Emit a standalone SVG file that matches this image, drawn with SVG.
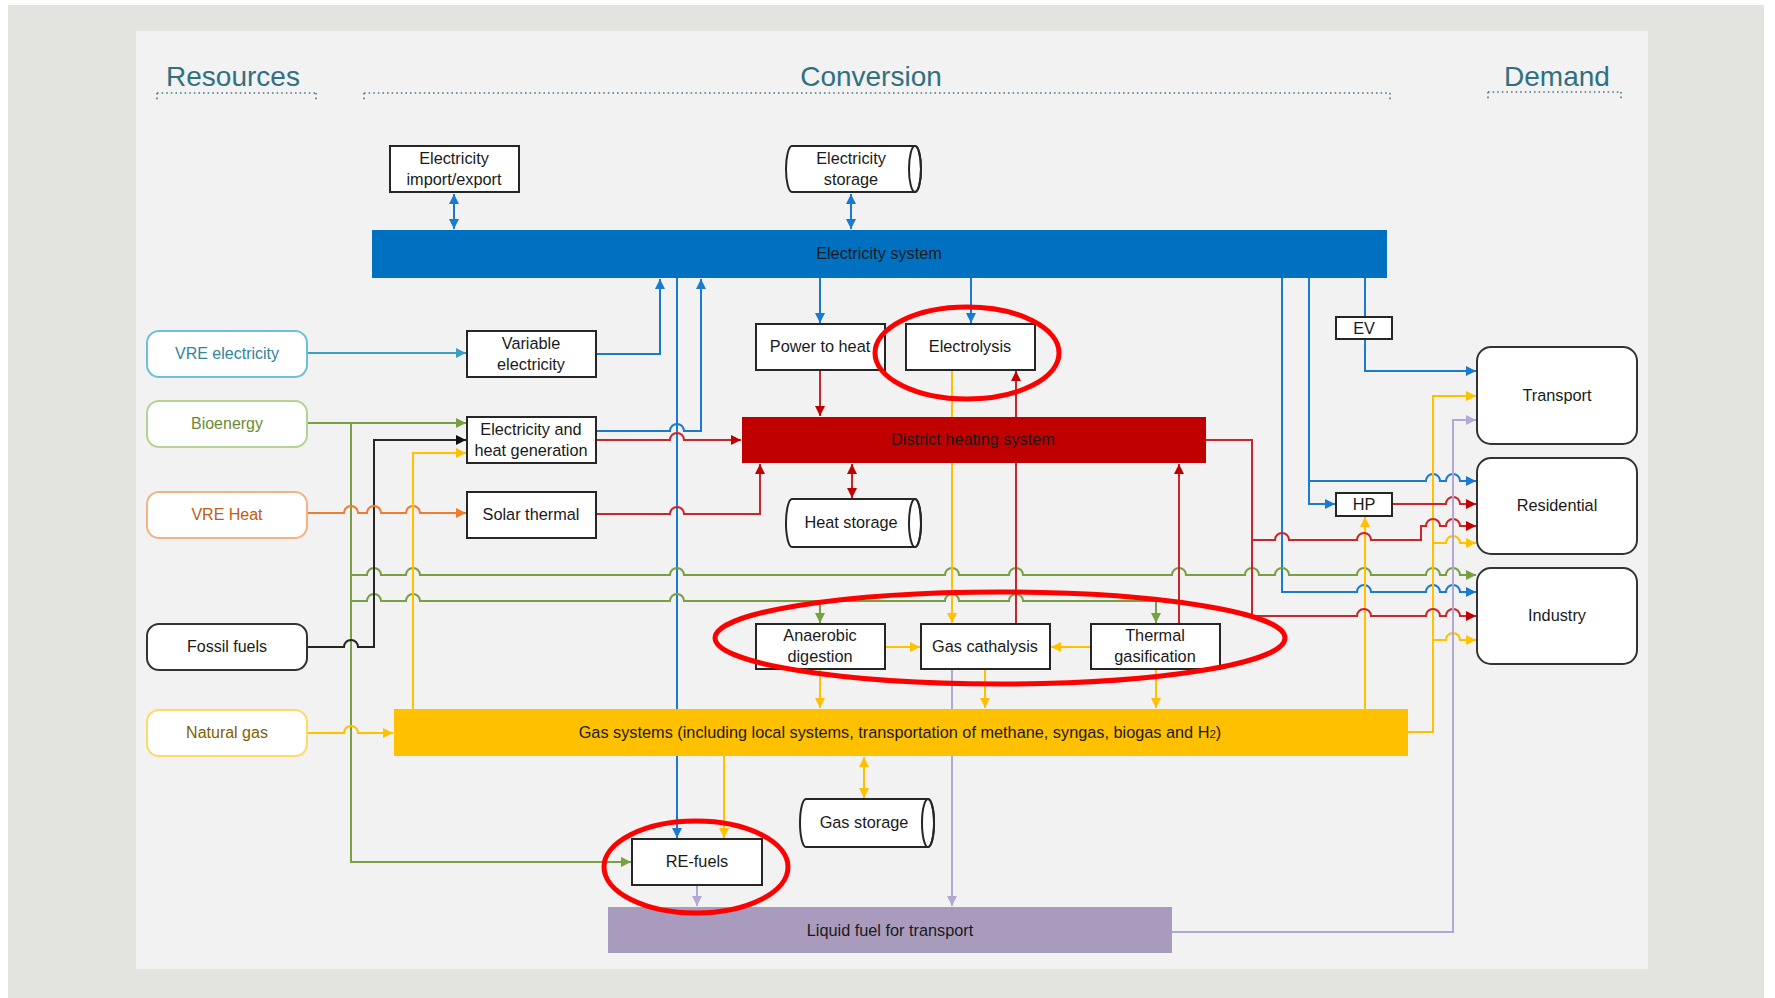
<svg xmlns="http://www.w3.org/2000/svg" width="1775" height="998" viewBox="0 0 1775 998">
<style>
text{font-family:"Liberation Sans",Arial,sans-serif;fill:#1a1a1a;text-anchor:middle}
.hdr{font-size:28px;fill:#31707f}
.t{font-size:16.3px}
.res{font-size:16px}
.box{fill:#ffffff;stroke:#262626;stroke-width:2}
.rbox{fill:#ffffff;stroke-width:2}
.dot{stroke:#4a7a88;stroke-width:1.6;stroke-dasharray:1.6 3;fill:none}
.c{fill:none;stroke-width:2}
.blue{stroke:#1a7ad0}
.red{stroke:#c8262a}
.grn{stroke:#77a043}
.yel{stroke:#ffc000}
.org{stroke:#ed7d31}
.teal{stroke:#3f9fc0}
.blk{stroke:#262626}
.pur{stroke:#b4a7d6}
.ann{fill:none;stroke:#ff0000;stroke-width:5}
</style>
<defs>
<marker id="ab" viewBox="0 0 10 10" refX="10" refY="5" markerWidth="10" markerHeight="10" markerUnits="userSpaceOnUse" orient="auto-start-reverse"><path d="M0,0L10,5L0,10z" fill="#1a7ad0"/></marker>
<marker id="ar" viewBox="0 0 10 10" refX="10" refY="5" markerWidth="10" markerHeight="10" markerUnits="userSpaceOnUse" orient="auto-start-reverse"><path d="M0,0L10,5L0,10z" fill="#c00000"/></marker>
<marker id="ag" viewBox="0 0 10 10" refX="10" refY="5" markerWidth="10" markerHeight="10" markerUnits="userSpaceOnUse" orient="auto-start-reverse"><path d="M0,0L10,5L0,10z" fill="#77a043"/></marker>
<marker id="ay" viewBox="0 0 10 10" refX="10" refY="5" markerWidth="10" markerHeight="10" markerUnits="userSpaceOnUse" orient="auto-start-reverse"><path d="M0,0L10,5L0,10z" fill="#ffc000"/></marker>
<marker id="ao" viewBox="0 0 10 10" refX="10" refY="5" markerWidth="10" markerHeight="10" markerUnits="userSpaceOnUse" orient="auto-start-reverse"><path d="M0,0L10,5L0,10z" fill="#ed7d31"/></marker>
<marker id="at" viewBox="0 0 10 10" refX="10" refY="5" markerWidth="10" markerHeight="10" markerUnits="userSpaceOnUse" orient="auto-start-reverse"><path d="M0,0L10,5L0,10z" fill="#3f9fc0"/></marker>
<marker id="ak" viewBox="0 0 10 10" refX="10" refY="5" markerWidth="10" markerHeight="10" markerUnits="userSpaceOnUse" orient="auto-start-reverse"><path d="M0,0L10,5L0,10z" fill="#111111"/></marker>
<marker id="ap" viewBox="0 0 10 10" refX="10" refY="5" markerWidth="10" markerHeight="10" markerUnits="userSpaceOnUse" orient="auto-start-reverse"><path d="M0,0L10,5L0,10z" fill="#b4a7d6"/></marker>
</defs>
<rect x="0" y="0" width="1775" height="998" fill="#ffffff"/>
<rect x="8" y="5" width="1756" height="993" fill="#e3e4df"/>
<rect x="136" y="31" width="1512" height="938" fill="#f2f2f2"/>

<g id="headers">
<text class="hdr" x="233" y="86">Resources</text>
<text class="hdr" x="871" y="86">Conversion</text>
<text class="hdr" x="1557" y="86">Demand</text>
<path class="dot" d="M157,93H316M157,93V100M316,93V100"/>
<path class="dot" d="M364,93H1390M364,93V100M1390,93V100"/>
<path class="dot" d="M1488,92H1621M1488,92V99M1621,92V99"/>
</g>

<g id="connectors">
<!-- blue -->
<path class="c blue" d="M454,194V229" marker-start="url(#ab)" marker-end="url(#ab)"/>
<path class="c blue" d="M851,194V229" marker-start="url(#ab)" marker-end="url(#ab)"/>
<path class="c blue" d="M596,354H660V279" marker-end="url(#ab)"/>
<path class="c blue" d="M596,431H670a7,7 0 0 1 14,0H701V279" marker-end="url(#ab)"/>
<path class="c blue" d="M677,278V838" marker-end="url(#ab)"/>
<path class="c blue" d="M820,278V323" marker-end="url(#ab)"/>
<path class="c blue" d="M971,278V323" marker-end="url(#ab)"/>
<path class="c blue" d="M1365,278V317"/>
<path class="c blue" d="M1365,339V371H1476" marker-end="url(#ab)"/>
<path class="c blue" d="M1309,278V504H1335" marker-end="url(#ab)"/>
<path class="c blue" d="M1309,481H1426a7,7 0 0 1 14,0H1446a7,7 0 0 1 14,0H1476" marker-end="url(#ab)"/>
<path class="c blue" d="M1282,278V592H1357a7,7 0 0 1 14,0H1426a7,7 0 0 1 14,0H1446a7,7 0 0 1 14,0H1476" marker-end="url(#ab)"/>
<!-- teal -->
<path class="c teal" d="M307,353H466" marker-end="url(#at)"/>
<!-- green -->
<path class="c grn" d="M307,423H466" marker-end="url(#ag)"/>
<path class="c grn" d="M351,423V862H631" marker-end="url(#ag)"/>
<path class="c grn" d="M351,575H367a7,7 0 0 1 14,0H406a7,7 0 0 1 14,0H670a7,7 0 0 1 14,0H945a7,7 0 0 1 14,0H1009a7,7 0 0 1 14,0H1172a7,7 0 0 1 14,0H1245a7,7 0 0 1 14,0H1275a7,7 0 0 1 14,0H1357a7,7 0 0 1 14,0H1426a7,7 0 0 1 14,0H1446a7,7 0 0 1 14,0H1476" marker-end="url(#ag)"/>
<path class="c grn" d="M351,601H367a7,7 0 0 1 14,0H406a7,7 0 0 1 14,0H670a7,7 0 0 1 14,0H945a7,7 0 0 1 14,0H1009a7,7 0 0 1 14,0H1156V623" marker-end="url(#ag)"/>
<path class="c grn" d="M820,601V623" marker-end="url(#ag)"/>
<!-- black -->
<path class="c blk" d="M307,647H344a7,7 0 0 1 14,0H374V440H466" marker-end="url(#ak)"/>
<!-- orange -->
<path class="c org" d="M307,513H344a7,7 0 0 1 14,0H367a7,7 0 0 1 14,0H406a7,7 0 0 1 14,0H466" marker-end="url(#ao)"/>
<!-- yellow -->
<path class="c yel" d="M307,733H344a7,7 0 0 1 14,0H393" marker-end="url(#ay)"/>
<path class="c yel" d="M413,709V453H466" marker-end="url(#ay)"/>
<path class="c yel" d="M952,370V623" marker-end="url(#ay)"/>
<path class="c yel" d="M885,647H920" marker-end="url(#ay)"/>
<path class="c yel" d="M1091,647H1051" marker-end="url(#ay)"/>
<path class="c yel" d="M820,669V708" marker-end="url(#ay)"/>
<path class="c yel" d="M985,669V708" marker-end="url(#ay)"/>
<path class="c yel" d="M1156,669V708" marker-end="url(#ay)"/>
<path class="c yel" d="M724,756V838" marker-end="url(#ay)"/>
<path class="c yel" d="M864,757V798" marker-start="url(#ay)" marker-end="url(#ay)"/>
<path class="c yel" d="M1365,709V517" marker-end="url(#ay)"/>
<path class="c yel" d="M1408,732H1433V396H1476" marker-end="url(#ay)"/>
<path class="c yel" d="M1433,543H1446a7,7 0 0 1 14,0H1476" marker-end="url(#ay)"/>
<path class="c yel" d="M1433,640H1446a7,7 0 0 1 14,0H1476" marker-end="url(#ay)"/>
<!-- red -->
<path class="c red" d="M596,440H670a7,7 0 0 1 14,0H741" marker-end="url(#ar)"/>
<path class="c red" d="M596,514H670a7,7 0 0 1 14,0H760V464" marker-end="url(#ar)"/>
<path class="c red" d="M820,370V416" marker-end="url(#ar)"/>
<path class="c red" d="M852,464V498" marker-start="url(#ar)" marker-end="url(#ar)"/>
<path class="c red" d="M1016,624V371" marker-end="url(#ar)"/>
<path class="c red" d="M1179,624V464" marker-end="url(#ar)"/>
<path class="c red" d="M1206,440H1252V616H1357a7,7 0 0 1 14,0H1426a7,7 0 0 1 14,0H1446a7,7 0 0 1 14,0H1476" marker-end="url(#ar)"/>
<path class="c red" d="M1252,540H1275a7,7 0 0 1 14,0H1357a7,7 0 0 1 14,0H1421V526H1426a7,7 0 0 1 14,0H1446a7,7 0 0 1 14,0H1476" marker-end="url(#ar)"/>
<path class="c red" d="M1392,504H1446a7,7 0 0 1 14,0H1476" marker-end="url(#ar)"/>
<!-- purple -->
<path class="c pur" d="M697,885V906" marker-end="url(#ap)"/>
<path class="c pur" d="M952,669V906" marker-end="url(#ap)"/>
<path class="c pur" d="M1172,932H1453V420H1476" marker-end="url(#ap)"/>
</g>

<g id="n-import"><rect class="box" x="390" y="146" width="129" height="46"/><text class="t" x="454" y="164">Electricity</text><text class="t" x="454" y="185">import/export</text></g>
<g id="n-elstorage"><path class="box" d="M792,146H915A6,23 0 0 1 915,192H792A6,23 0 0 1 792,146Z"/><ellipse cx="915" cy="169" rx="6" ry="23" fill="none" stroke="#262626" stroke-width="2"/><text class="t" x="851" y="164">Electricity</text><text class="t" x="851" y="185">storage</text></g>
<g id="n-elsystem"><rect x="372" y="230" width="1015" height="48" fill="#0070c0"/><text class="t" x="879" y="259">Electricity system</text></g>

<g id="n-vre-el"><rect class="rbox" x="147" y="331" width="160" height="46" rx="12" stroke="#6cc0dd"/><text class="res" x="227" y="359" style="fill:#31849b">VRE electricity</text></g>
<g id="n-bio"><rect class="rbox" x="147" y="401" width="160" height="46" rx="12" stroke="#b5d294"/><text class="res" x="227" y="429" style="fill:#6b8a36">Bioenergy</text></g>
<g id="n-vre-heat"><rect class="rbox" x="147" y="492" width="160" height="46" rx="12" stroke="#f4b183"/><text class="res" x="227" y="520" style="fill:#c55a11">VRE Heat</text></g>
<g id="n-fossil"><rect class="rbox" x="147" y="624" width="160" height="46" rx="12" stroke="#333333"/><text class="res" x="227" y="652">Fossil fuels</text></g>
<g id="n-natgas"><rect class="rbox" x="147" y="710" width="160" height="46" rx="12" stroke="#ffd966"/><text class="res" x="227" y="738" style="fill:#7f6000">Natural gas</text></g>

<g id="n-varel"><rect class="box" x="467" y="331" width="129" height="46"/><text class="t" x="531" y="349">Variable</text><text class="t" x="531" y="370">electricity</text></g>
<g id="n-ehgen"><rect class="box" x="467" y="417" width="129" height="46"/><text class="t" x="531" y="435">Electricity and</text><text class="t" x="531" y="456">heat generation</text></g>
<g id="n-solar"><rect class="box" x="467" y="492" width="129" height="46"/><text class="t" x="531" y="520">Solar thermal</text></g>

<g id="n-p2h"><rect class="box" x="756" y="324" width="129" height="46"/><text class="t" x="820" y="352">Power to heat</text></g>
<g id="n-electrolysis"><rect class="box" x="906" y="324" width="129" height="46"/><text class="t" x="970" y="352">Electrolysis</text></g>
<g id="n-dh"><rect x="742" y="417" width="464" height="46" fill="#c00000"/><text class="t" x="973" y="445">District heating system</text></g>
<g id="n-heatstorage"><path class="box" d="M792,499H915A6,24 0 0 1 915,547H792A6,24 0 0 1 792,499Z"/><ellipse cx="915" cy="523" rx="6" ry="24" fill="none" stroke="#262626" stroke-width="2"/><text class="t" x="851" y="528">Heat storage</text></g>

<g id="n-ev"><rect class="box" x="1336" y="317" width="56" height="22"/><text class="t" x="1364" y="334">EV</text></g>
<g id="n-hp"><rect class="box" x="1336" y="493" width="56" height="23"/><text class="t" x="1364" y="510">HP</text></g>

<g id="n-anaerobic"><rect class="box" x="756" y="624" width="129" height="45"/><text class="t" x="820" y="641">Anaerobic</text><text class="t" x="820" y="662">digestion</text></g>
<g id="n-gascat"><rect class="box" x="921" y="624" width="129" height="45"/><text class="t" x="985" y="652">Gas cathalysis</text></g>
<g id="n-thermal"><rect class="box" x="1091" y="624" width="129" height="45"/><text class="t" x="1155" y="641">Thermal</text><text class="t" x="1155" y="662">gasification</text></g>

<g id="n-gassys"><rect x="394" y="709" width="1014" height="47" fill="#ffc000"/><text class="t" x="900" y="738">Gas systems (including local systems, transportation of methane, syngas, biogas and H<tspan font-size="11.5">2</tspan>)</text></g>
<g id="n-gasstorage"><path class="box" d="M806,799H928A6,24 0 0 1 928,847H806A6,24 0 0 1 806,799Z"/><ellipse cx="928" cy="823" rx="6" ry="24" fill="none" stroke="#262626" stroke-width="2"/><text class="t" x="864" y="828">Gas storage</text></g>
<g id="n-refuels"><rect class="box" x="632" y="839" width="130" height="46"/><text class="t" x="697" y="867">RE-fuels</text></g>
<g id="n-liquid"><rect x="608" y="907" width="564" height="46" fill="#a99bbd"/><text class="t" x="890" y="936">Liquid fuel for transport</text></g>

<g id="n-transport"><rect class="rbox" x="1477" y="347" width="160" height="97" rx="14" stroke="#333333"/><text class="t" x="1557" y="401">Transport</text></g>
<g id="n-residential"><rect class="rbox" x="1477" y="458" width="160" height="96" rx="14" stroke="#333333"/><text class="t" x="1557" y="511">Residential</text></g>
<g id="n-industry"><rect class="rbox" x="1477" y="568" width="160" height="96" rx="14" stroke="#333333"/><text class="t" x="1557" y="621">Industry</text></g>

<g id="annotations">
<ellipse class="ann" cx="967" cy="353" rx="92" ry="46"/>
<ellipse class="ann" cx="1000" cy="638" rx="285" ry="46"/>
<ellipse class="ann" cx="696" cy="867" rx="92" ry="46"/>
</g>
</svg>
